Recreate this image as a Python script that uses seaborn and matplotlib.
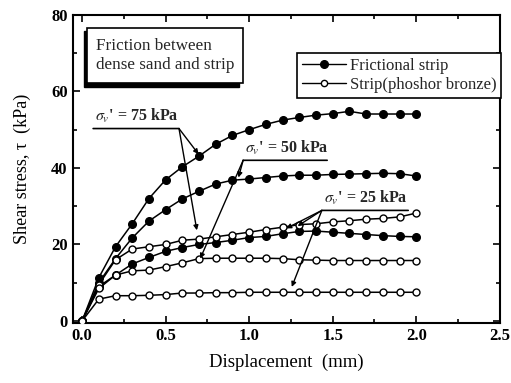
import matplotlib
matplotlib.use("Agg")
import matplotlib.pyplot as plt
from matplotlib.lines import Line2D
from matplotlib.patches import Rectangle
from matplotlib.ticker import MultipleLocator
import seaborn as sns
import pandas as pd

# ---------------- data ----------------
displacement = [0.0, 0.1, 0.2, 0.3, 0.4, 0.5, 0.6, 0.7, 0.8, 0.9, 1.0,
                1.1, 1.2, 1.3, 1.4, 1.5, 1.6, 1.7, 1.8, 1.9, 2.0]
fric_75 = [0, 11.3, 19.4, 25.4, 32.0, 36.9, 40.3, 43.1, 46.2, 48.5, 50.0,
           51.4, 52.5, 53.2, 53.8, 54.2, 54.8, 54.1, 54.1, 54.1, 54.1]
fric_50 = [0, 10.0, 16.3, 21.7, 26.1, 29.1, 31.9, 33.9, 35.8, 36.8, 37.1,
           37.5, 37.9, 38.1, 38.1, 38.3, 38.4, 38.5, 38.6, 38.5, 37.9]
fric_25 = [0, 9.0, 12.0, 14.9, 16.6, 18.2, 19.2, 20.0, 20.5, 21.1, 21.8,
           22.1, 22.8, 23.4, 23.5, 23.2, 22.9, 22.6, 22.3, 22.1, 22.0]
strip_75 = [0, 9.5, 16.0, 18.8, 19.4, 20.0, 21.1, 21.4, 22.0, 22.6, 23.2,
            23.9, 24.5, 25.2, 25.4, 25.9, 26.2, 26.6, 26.8, 27.2, 28.2]
strip_50 = [0, 8.5, 12.0, 13.1, 13.3, 14.2, 15.2, 16.3, 16.4, 16.4, 16.4,
            16.4, 16.3, 16.0, 15.9, 15.8, 15.8, 15.8, 15.8, 15.8, 15.8]
strip_25 = [0, 5.7, 6.6, 6.6, 6.7, 6.9, 7.3, 7.3, 7.4, 7.4, 7.5,
            7.5, 7.5, 7.5, 7.5, 7.5, 7.5, 7.5, 7.5, 7.5, 7.5]

legend_labels = ["Frictional strip", "Strip(phoshor bronze)"]
box_text = "Friction between\ndense sand and strip"
x_label = "Displacement  (mm)"
y_label = "Shear stress, τ  (kPa)"

# annotation: label, text pos, underline end x, arrow start, arrow targets
annotations = [
    (r"$\sigma_{v}$' = 75 kPa", (0.066, 50.3), 0.58, (0.58, 50.3),
     [(0.697, 43.6), (0.687, 23.7)]),
    (r"$\sigma_{v}$' = 50 kPa", (0.964, 42.0), 1.467, (0.964, 42.0),
     [(0.936, 37.5), (0.707, 16.3)]),
    (r"$\sigma_{v}$' = 25 kPa", (1.435, 28.9), 1.952, (1.435, 28.9),
     [(1.222, 24.2), (1.29, 24.8), (1.255, 8.9)]),
]

# ---------------- style ----------------
sns.set_theme(style="ticks")
plt.rcParams["font.family"] = ["Liberation Serif", "DejaVu Serif"]
plt.rcParams["mathtext.fontset"] = "stix"

fig = plt.figure(figsize=(5.11, 3.83), dpi=100)
ax = fig.add_axes([0.143, 0.157, 0.835, 0.804])

series = [(fric_75, True), (fric_50, True), (fric_25, True),
          (strip_75, False), (strip_50, False), (strip_25, False)]
for vals, filled in series:
    df = pd.DataFrame({"x": displacement, "y": vals})
    sns.lineplot(data=df, x="x", y="y", ax=ax, color="black", lw=1.1,
                 marker="o", markersize=5.5 if filled else 5,
                 markerfacecolor="black" if filled else "white",
                 markeredgecolor="black", markeredgewidth=1.0,
                 estimator=None, sort=False, zorder=3)

ax.set_xlim(-0.054, 2.5)
ax.set_ylim(-0.5, 80)
ax.xaxis.set_major_locator(MultipleLocator(0.5))
ax.xaxis.set_minor_locator(MultipleLocator(0.25))
ax.yaxis.set_major_locator(MultipleLocator(20))
ax.yaxis.set_minor_locator(MultipleLocator(10))
ax.set_xticks([0, 0.5, 1.0, 1.5, 2.0, 2.5])
ax.set_xticklabels(["0.0", "0.5", "1.0", "1.5", "2.0", "2.5"])
ax.tick_params(which="both", direction="in", top=True, right=True,
               colors="black", width=1.2)
ax.tick_params(which="major", length=5, labelsize=12, pad=4)
ax.tick_params(which="minor", length=3)
for lab in ax.get_xticklabels() + ax.get_yticklabels():
    lab.set_fontweight("bold")
for s in ax.spines.values():
    s.set_linewidth(1.5)
    s.set_color("black")

ax.set_xlabel(x_label, fontsize=13.5, labelpad=7, color="black")
ax.set_ylabel(y_label, fontsize=13, labelpad=14, color="black")

# legend
handles = [Line2D([], [], color="black", lw=1.0, marker="o", markersize=5.5,
                  markerfacecolor="black", markeredgecolor="black"),
           Line2D([], [], color="black", lw=1.0, marker="o", markersize=4.5,
                  markerfacecolor="white", markeredgecolor="black")]
leg = ax.legend(handles, legend_labels, loc="upper right",
                bbox_to_anchor=(1.004, 0.877), fontsize=12, frameon=True,
                fancybox=False, edgecolor="black", framealpha=1,
                handlelength=2.6, handletextpad=0.25, borderpad=0.3,
                labelspacing=0.2, borderaxespad=0.0, markerscale=1)
leg.get_frame().set_linewidth(1.2)

# text box with shadow
bx0, by0, bw, bh = 0.033, 0.778, 0.365, 0.18
ax.add_patch(Rectangle((bx0 - 0.008, by0 - 0.011), bw, bh,
                       transform=ax.transAxes, facecolor="black",
                       edgecolor="black", zorder=5))
ax.add_patch(Rectangle((bx0, by0), bw, bh, transform=ax.transAxes,
                       facecolor="white", edgecolor="black", lw=1.2,
                       zorder=6))
ax.text(bx0 + 0.02, by0 + bh / 2, box_text, transform=ax.transAxes,
        fontsize=12.3, va="center", ha="left", linespacing=1.3, zorder=7)

# sigma annotations
for label, (tx, ty), xend, start, targets in annotations:
    ax.annotate("", xy=(xend, ty), xytext=(tx, ty),
                arrowprops=dict(arrowstyle="-", color="black", lw=1.2,
                                shrinkA=0, shrinkB=0), zorder=4)
    ax.text(tx + 0.01, ty + 0.8, label, fontsize=11.5, fontweight="bold",
            ha="left", va="bottom", zorder=4)
    for tgt in targets:
        ax.annotate("", xy=tgt, xytext=start,
                    arrowprops=dict(arrowstyle="-|>", color="black", lw=1.0,
                                    mutation_scale=7, shrinkA=0, shrinkB=0),
                    zorder=4)

fig.savefig("out.png", dpi=100)
